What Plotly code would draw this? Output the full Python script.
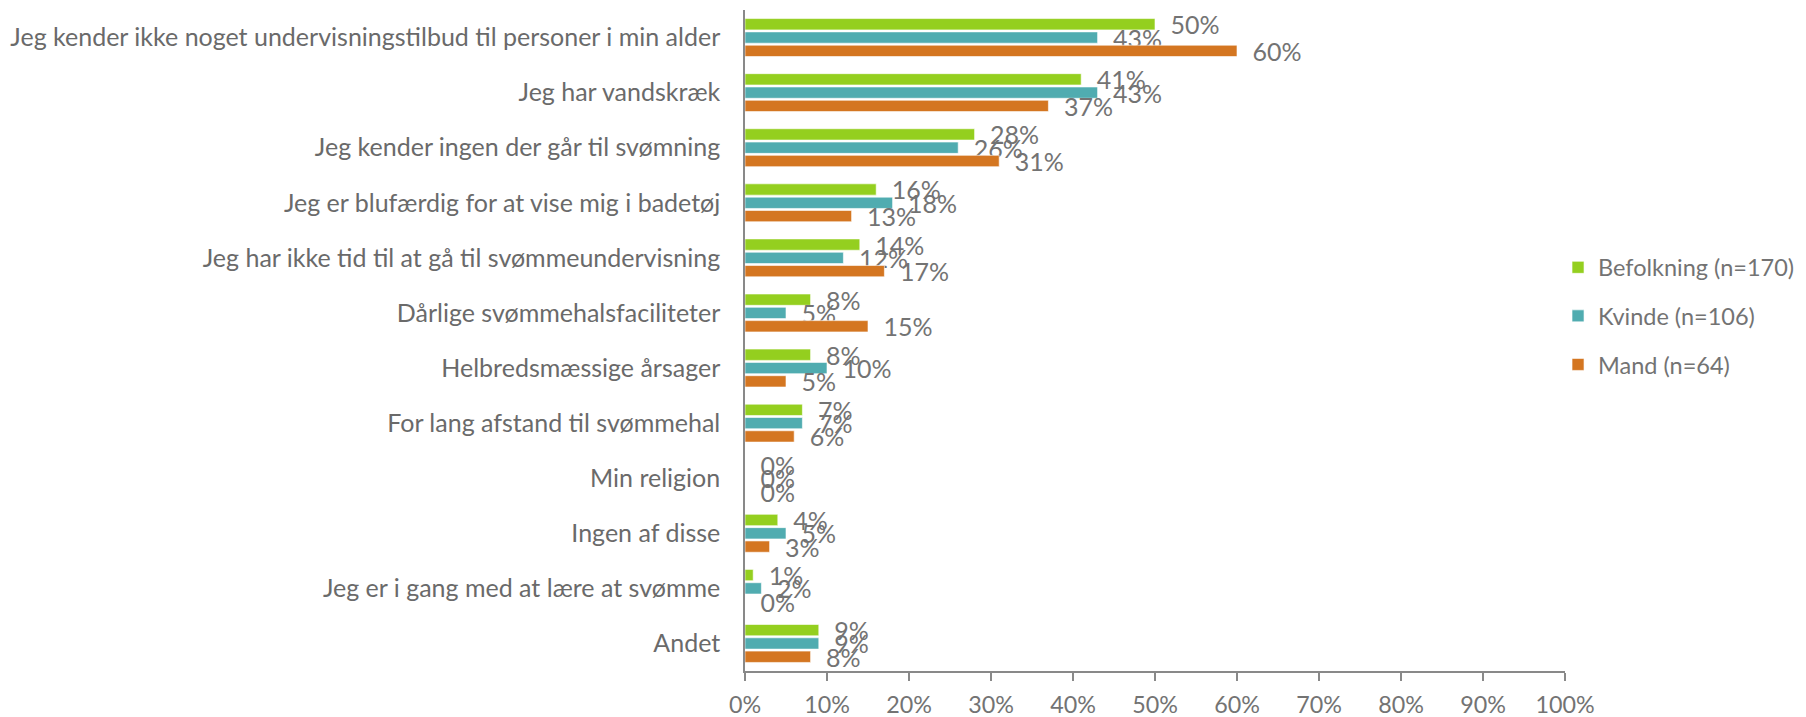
import plotly.graph_objects as go

categories = [
    "Jeg kender ikke noget undervisningstilbud til personer i min alder",
    "Jeg har vandskræk",
    "Jeg kender ingen der går til svømning",
    "Jeg er blufærdig for at vise mig i badetøj",
    "Jeg har ikke tid til at gå til svømmeundervisning",
    "Dårlige svømmehalsfaciliteter",
    "Helbredsmæssige årsager",
    "For lang afstand til svømmehal",
    "Min religion",
    "Ingen af disse",
    "Jeg er i gang med at lære at svømme",
    "Andet",
]
befolkning = [50, 41, 28, 16, 14, 8, 8, 7, 0, 4, 1, 9]
kvinde = [43, 43, 26, 18, 12, 5, 10, 7, 0, 5, 2, 9]
mand = [60, 37, 31, 13, 17, 15, 5, 6, 0, 3, 0, 8]

series_names = ["Befolkning (n=170)", "Kvinde (n=106)", "Mand (n=64)"]
series_values = [befolkning, kvinde, mand]
series_colors = ["#94CF1F", "#50ACB0", "#D47621"]

FONT = "Lato"
GRAY = "#737373"

fig = go.Figure()
for i, (name, vals, col) in enumerate(zip(series_names, series_values, series_colors)):
    fig.add_trace(go.Bar(
        name=name,
        y=categories,
        x=vals,
        orientation="h",
        marker=dict(color=col, line=dict(color="white", width=0.6)),
        text=[f"\u2002{v}%" for v in vals],
        textposition="outside",
        constraintext="none",
        cliponaxis=False,
        textfont=dict(family=FONT, size=25, color=GRAY),
        legendgroup=f"g{i}",
    ))

fig.update_layout(
    width=1798,
    height=709,
    barmode="group",
    bargap=0.275,
    bargroupgap=0.15,
    plot_bgcolor="white",
    paper_bgcolor="white",
    margin=dict(l=737, r=241, t=2, b=46, autoexpand=False),
    font=dict(family=FONT, size=23, color=GRAY),
    showlegend=True,
    legend=dict(
        x=0.9915, xanchor="left",
        y=0.537, yanchor="middle",
        font=dict(family=FONT, size=23.5, color=GRAY),
        traceorder="grouped",
        tracegroupgap=15,
        bgcolor="rgba(0,0,0,0)",
    ),
    xaxis=dict(
        range=[0, 100],
        tickvals=[0, 10, 20, 30, 40, 50, 60, 70, 80, 90, 100],
        ticktext=[f"{v}%" for v in range(0, 101, 10)],
        showgrid=False,
        zeroline=False,
        showline=True,
        linecolor="#898989",
        linewidth=1.5,
        ticks="outside",
        ticklen=8,
        tickcolor="#898989",
        tickwidth=1.5,
        tickfont=dict(family=FONT, size=23.3, color=GRAY),
        ticklabelstandoff=4,
        automargin=False,
        fixedrange=True,
    ),
    yaxis=dict(
        autorange="reversed",
        showgrid=False,
        zeroline=False,
        showline=True,
        linecolor="#898989",
        linewidth=1.5,
        ticks="",
        tickfont=dict(family=FONT, size=25, color="#6a6a6a"),
        ticklabelstandoff=18,
        automargin=False,
        fixedrange=True,
    ),
)

fig.write_html("out.html")
